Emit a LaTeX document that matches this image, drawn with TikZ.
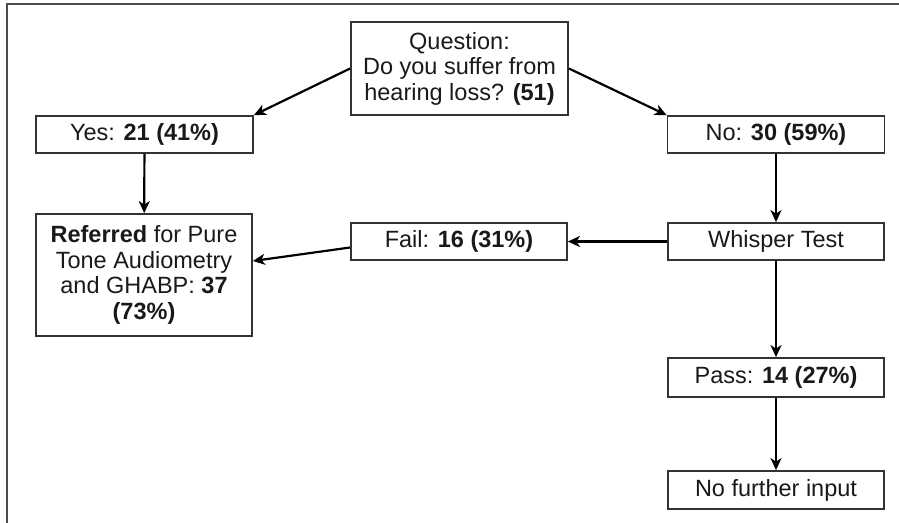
\documentclass[tikz,border=0pt]{standalone}
\usepackage{fontspec}
\setmainfont{Liberation Sans}
\usetikzlibrary{arrows.meta}
\begin{document}
\begin{tikzpicture}[x=1pt,y=-1pt,
  box/.style={draw=black!80, line width=1.8pt, rectangle, inner sep=0pt,
    font=\fontsize{23.5}{25.5}\selectfont, text=black!90, align=center, minimum width=217pt},
  arr/.style={line width=2.2pt, -{Stealth[length=12pt,width=11pt,inset=3.5pt]}},
  frame/.style={draw=black!70, line width=1.6pt}]
\useasboundingbox (0,0) rectangle (899,522);
\draw[frame] (7,523) -- (7,4) -- (900,4);
\node[box, minimum height=93pt] (q) at (459.5,68.5) {Question:\\Do you suffer from\\hearing loss? \textbf{(51)}};
\node[box, minimum height=37pt] (yes) at (144.5,134.5) {Yes: \textbf{21 (41\%)}};
\node[box, minimum height=37pt] (no) at (776,134.5) {No: \textbf{30 (59\%)}};
\node[box, minimum height=122pt, minimum width=216pt] (ref) at (144,275) {\textbf{Referred} for Pure\\Tone Audiometry\\and GHABP: \textbf{37}\\\textbf{(73\%)}};
\node[box, minimum height=37pt, minimum width=216pt] (fail) at (459,241.5) {Fail: \textbf{16 (31\%)}};
\node[box, minimum height=37pt, minimum width=216pt] (wh) at (776,241.5) {Whisper Test};
\node[box, minimum height=39pt, minimum width=216pt] (pass) at (776,377.5) {Pass: \textbf{14 (27\%)}};
\node[box, minimum height=38pt, minimum width=216pt] (nf) at (776,490) {No further input};
\draw[arr] (q.west) -- (yes.north east);
\draw[arr] (q.east) -- (no.north west);
\draw[arr] (yes) -- (ref);
\draw[arr] (no) -- (wh);
\draw[arr] (wh) -- (fail);
\draw[arr] ([yshift=-6pt]fail.west) -- ([yshift=14pt]ref.east);
\draw[arr] (wh) -- (pass);
\draw[arr] (pass) -- (nf);
\end{tikzpicture}
\end{document}
